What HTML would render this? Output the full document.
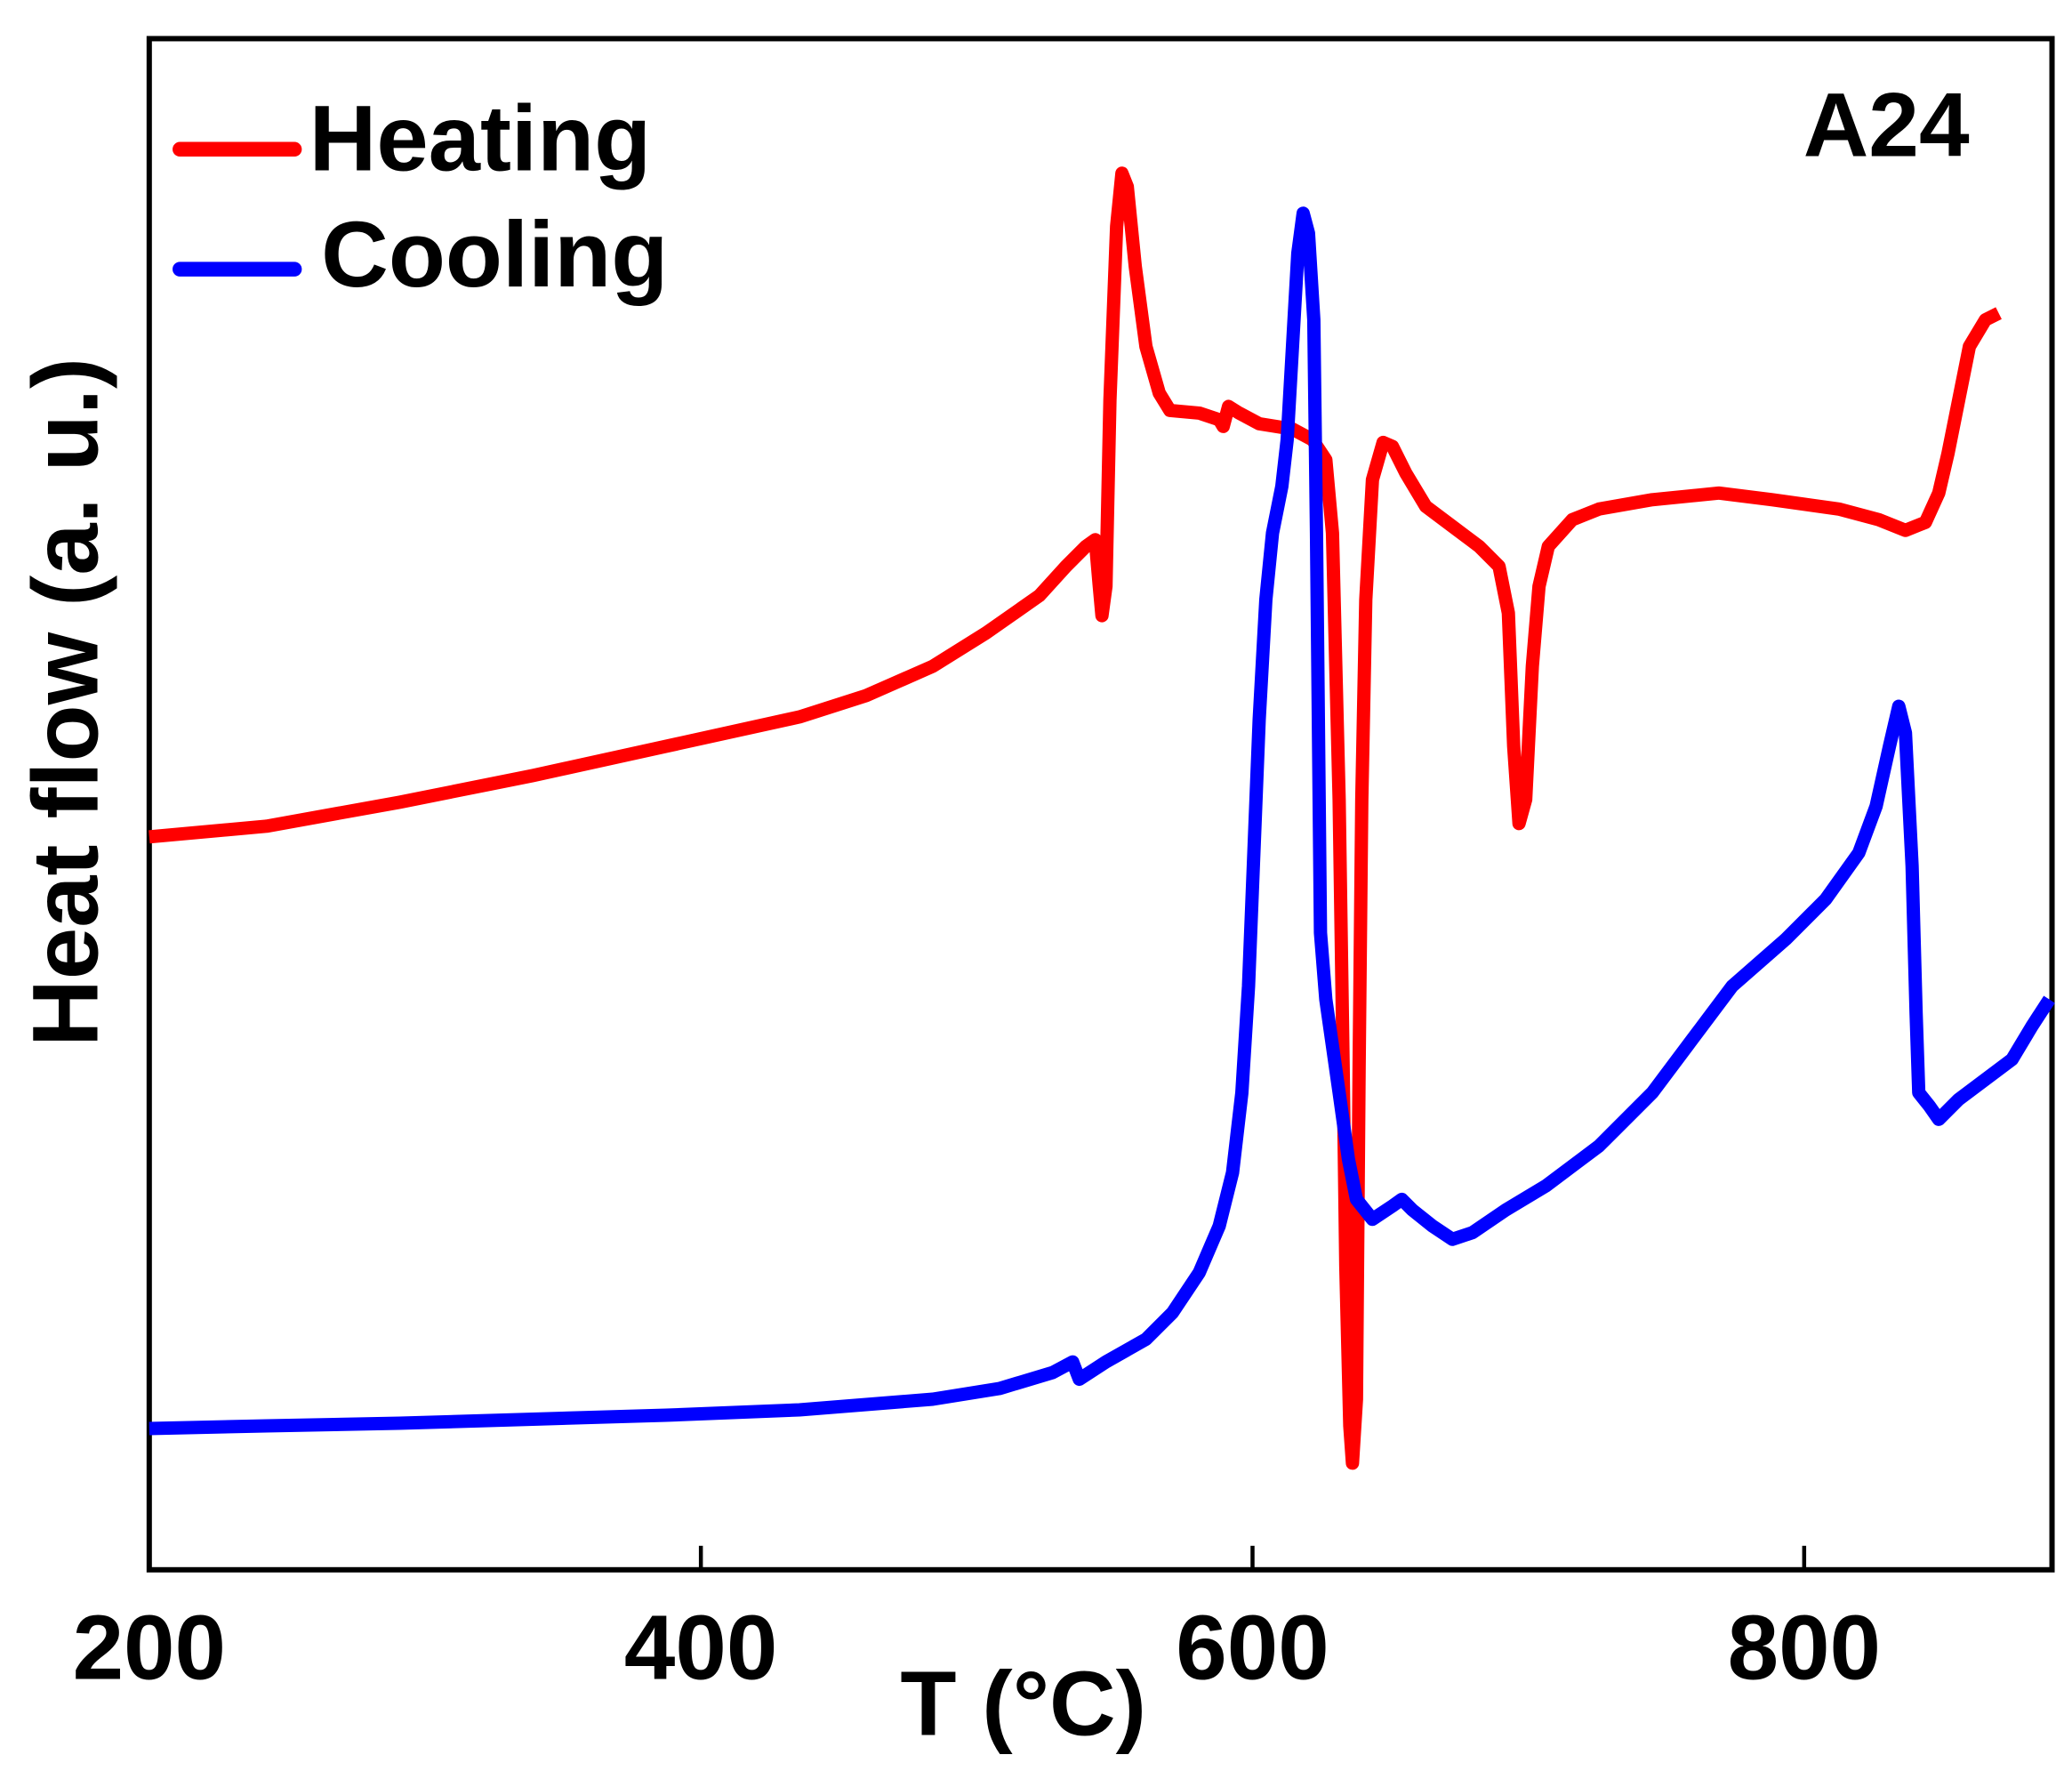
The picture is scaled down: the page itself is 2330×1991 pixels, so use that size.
<!DOCTYPE html>
<html><head><meta charset="utf-8"><style>html,body{margin:0;padding:0;background:#fff}svg{display:block}</style></head>
<body>
<svg width="2330" height="1991" viewBox="0 0 1555 1329" preserveAspectRatio="none" xmlns="http://www.w3.org/2000/svg" font-family="Liberation Sans, sans-serif" font-weight="bold">
<rect x="112" y="29" width="1428" height="1149" fill="none" stroke="#000" stroke-width="4"/>
<g stroke="#000" stroke-width="3">
<line x1="526" y1="1178" x2="526" y2="1160"/><line x1="940" y1="1178" x2="940" y2="1160"/><line x1="1354" y1="1178" x2="1354" y2="1160"/>
</g>
<g font-size="69" text-anchor="middle" fill="#000">
<text x="112" y="1260">200</text><text x="526" y="1260">400</text><text x="940" y="1260">600</text><text x="1354" y="1260">800</text>
<text x="768" y="1302">T (°C)</text>
<text transform="translate(73,527) rotate(-90)" font-size="70">Heat flow (a. u.)</text>
</g>
<polyline fill="none" stroke="#ff0000" stroke-width="10" stroke-linejoin="round" points="112,628 200,620 300,602 400,582 500,560 600,538 650,522 700,500 740,475 780,447 800,425 815,410 822,405 825,440 827,462 830,440 833,300 838,170 842,130 846,140 852,200 860,260 870,295 878,308 900,310 915,315 918,320 922,305 930,310 945,318 970,322 985,330 995,345 1000,400 1005,600 1008,800 1010,950 1013,1070 1015,1098 1018,1050 1020,800 1022,600 1025,450 1030,360 1038,332 1045,335 1055,355 1070,380 1090,395 1110,410 1125,425 1132,460 1136,560 1140,618 1145,600 1150,500 1155,440 1162,410 1180,390 1200,382 1240,375 1290,370 1330,375 1380,382 1410,390 1430,398 1445,392 1455,370 1462,340 1470,300 1478,260 1490,240 1500,235"/>
<polyline fill="none" stroke="#0000ff" stroke-width="10" stroke-linejoin="round" points="112,1072 200,1070 300,1068 400,1065 500,1062 600,1058 700,1050 750,1042 790,1030 805,1022 810,1035 830,1022 860,1005 880,985 900,955 915,920 925,880 932,820 937,740 941,640 945,540 950,450 955,400 962,365 966,330 970,260 974,190 978,160 982,175 986,240 988,400 990,600 991,700 995,750 1005,820 1012,870 1018,900 1030,915 1045,905 1052,900 1060,908 1075,920 1090,930 1105,925 1130,908 1160,890 1200,860 1240,820 1270,780 1300,740 1340,705 1370,675 1395,640 1408,605 1418,560 1425,530 1430,550 1435,650 1438,760 1440,820 1448,830 1455,840 1470,825 1490,810 1510,795 1525,770 1538,750"/>
<line x1="135" y1="112" x2="221" y2="112" stroke="#ff0000" stroke-width="11" stroke-linecap="round"/>
<line x1="135" y1="202" x2="221" y2="202" stroke="#0000ff" stroke-width="11" stroke-linecap="round"/>
<g font-size="70" fill="#000">
<text x="232" y="128">Heating</text>
<text x="241" y="215">Cooling</text>
</g>
<text x="1478" y="117" font-size="68" text-anchor="end" fill="#000">A24</text>
</svg>
</body></html>
